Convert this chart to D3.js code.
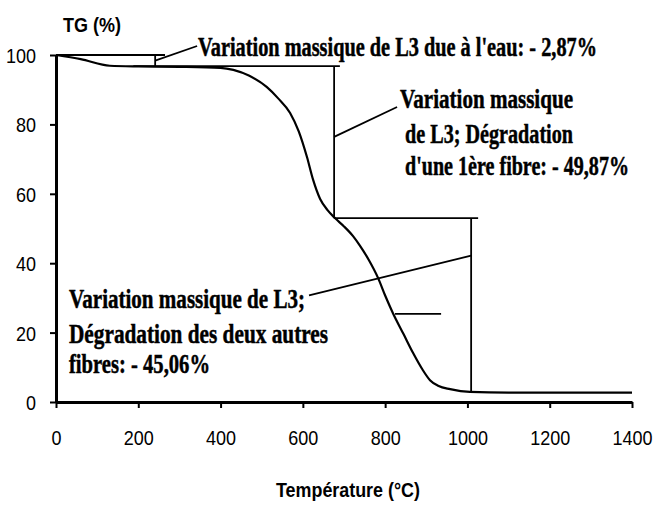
<!DOCTYPE html>
<html>
<head>
<meta charset="utf-8">
<script src="https://cdn.jsdelivr.net/npm/d3@7"></script>
<style>
  body { margin: 0; background: #fff; }
  svg { display: block; }
  .tick text { font-family: "Liberation Sans", Arial, sans-serif; font-size: 21px; fill: #000; }
  .note { font-family: "Liberation Serif", "Times New Roman", serif; font-weight: bold; font-size: 28px; fill: #000; stroke: #000; stroke-width: 0.5px; }
  .axis-title { font-family: "Liberation Sans", Arial, sans-serif; font-weight: bold; font-size: 20px; fill: #000; }
</style>
</head>
<body>
<div id="chart"></div>
<script>
// TG curve (temperature in °C, mass in %)
var temps = [0, 60, 131, 200, 300, 400, 431, 470, 512, 540, 569, 590, 610, 625, 642, 660, 678, 700, 722, 739, 760, 783, 800, 819, 845, 868, 890, 909, 930, 958, 1006, 1100, 1200, 1300, 1400];
var tg    = [100, 98.8, 96.9, 96.7, 96.6, 96.3, 95.7, 94, 90.8, 87.5, 83.3, 78, 70.6, 64, 58.5, 55.3, 53, 50.6, 47.8, 45, 41, 35.7, 30.7, 25.6, 19.5, 14.1, 9.5, 6.3, 4.6, 3.7, 2.9, 2.7, 2.7, 2.7, 2.7];

var xTicks = [0, 200, 400, 600, 800, 1000, 1200, 1400];
var yTicks = [0, 20, 40, 60, 80, 100];

// step lines drawn on the plot, in data units [T1, TG1, T2, TG2]
var guideLines = [
  [0, 100, 265, 100],
  [241, 100, 241, 96.8],
  [188, 96.8, 690, 96.8],
  [676, 96.8, 676, 53],
  [676, 53, 1026, 53],
  [1009, 53, 1009, 2.7],
  [824, 25.4, 936, 25.4]
];
// leader lines from the notes to the steps
var leaders = [
  [241, 98.4, 343, 102.6],
  [676, 76.4, 829, 85],
  [615, 30.7, 1009, 42.2]
];

var notes = [
  {lines: ["Variation massique de L3 due à l'eau: - 2,87%"], x: [198], y: [56], len: [399]},
  {lines: ["Variation massique", "de L3; Dégradation", "d'une 1ère fibre: - 49,87%"], x: [400, 405, 405], y: [108, 143, 175], len: [173, 168, 224]},
  {lines: ["Variation massique de L3;", "Dégradation des  deux autres", "fibres: - 45,06%"], x: [69, 69, 69], y: [308, 343, 373], len: [236, 259, 141]}
];

var width = 653, height = 518;

var svg = d3.select("#chart").append("svg")
    .attr("width", width)
    .attr("height", height);

var x = d3.scaleLinear().domain([0, 1400]).range([56, 632]);
var y = d3.scaleLinear().domain([0, 100]).range([402, 55]);

// axes
var xAxis = svg.append("g")
    .attr("transform", "translate(0," + y(0) + ")")
    .call(d3.axisBottom(x).tickValues(xTicks).tickFormat(d3.format("d")).tickSize(6).tickPadding(22).tickSizeOuter(0));
var yAxis = svg.append("g")
    .attr("transform", "translate(" + x(0) + ",0)")
    .call(d3.axisLeft(y).tickValues(yTicks).tickFormat(d3.format("d")).tickSize(6).tickPadding(14).tickSizeOuter(0));

[xAxis, yAxis].forEach(g => {
  g.select(".domain").attr("stroke", "#000").attr("stroke-width", 3);
  g.selectAll(".tick line").attr("stroke", "#000").attr("stroke-width", 2);
  g.selectAll(".tick text")
    .attr("textLength", d => String(d).length * 10)
    .attr("lengthAdjust", "spacingAndGlyphs");
});
yAxis.selectAll(".tick text").attr("dy", "0.36em");

// guide lines
svg.append("g").selectAll("line")
    .data(guideLines.concat(leaders))
  .enter().append("line")
    .attr("x1", d => x(d[0]))
    .attr("y1", d => y(d[1]))
    .attr("x2", d => x(d[2]))
    .attr("y2", d => y(d[3]))
    .attr("stroke", "#000")
    .attr("stroke-width", 1.8);

// TG curve
var line = d3.line()
    .x((d, i) => x(temps[i]))
    .y(d => y(d))
    .curve(d3.curveMonotoneX);

svg.append("path")
    .datum(tg)
    .attr("fill", "none")
    .attr("stroke", "#000")
    .attr("stroke-width", 2.2)
    .attr("d", line);

// notes
notes.forEach(n => {
  n.lines.forEach((t, i) => {
    svg.append("text")
      .attr("class", "note")
      .attr("x", n.x[i])
      .attr("y", n.y[i])
      .attr("textLength", n.len[i])
      .attr("lengthAdjust", "spacingAndGlyphs")
      .text(t);
  });
});

// axis titles
svg.append("text")
    .attr("class", "axis-title")
    .attr("x", 63).attr("y", 32)
    .attr("textLength", 58)
    .attr("lengthAdjust", "spacingAndGlyphs")
    .text("TG  (%)");

svg.append("text")
    .attr("class", "axis-title")
    .attr("x", 276).attr("y", 497)
    .attr("textLength", 144)
    .attr("lengthAdjust", "spacingAndGlyphs")
    .text("Température  (°C)");
</script>
</body>
</html>
